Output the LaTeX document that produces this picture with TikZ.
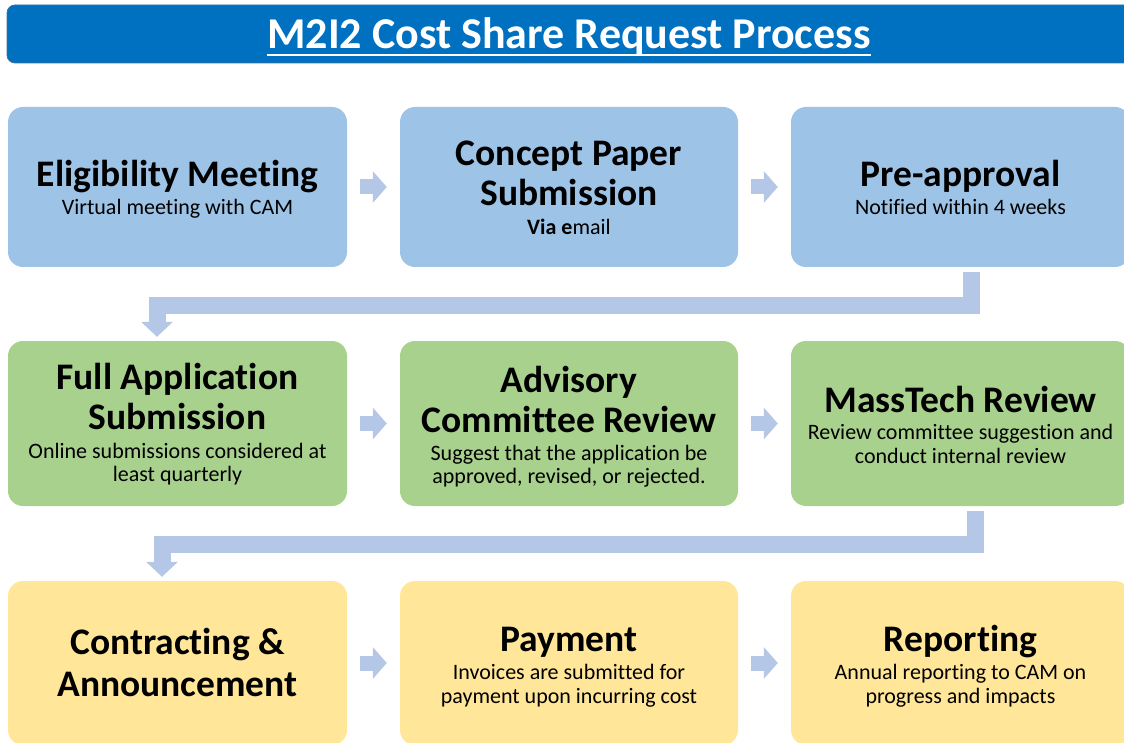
\documentclass[tikz,border=0pt]{standalone}
\usepackage{fontspec}
\setmainfont{Carlito}[Ligatures=NoCommon]
\usetikzlibrary{arrows.meta,calc}
\definecolor{titleblue}{HTML}{0070C0}
\definecolor{titleedge}{HTML}{41719C}
\definecolor{cblue}{HTML}{9DC3E6}
\definecolor{cgreen}{HTML}{A9D18E}
\definecolor{cyellow}{HTML}{FFE699}
\definecolor{carrow}{HTML}{B4C7E7}
\begin{document}
\begin{tikzpicture}[x=1pt,y=-1pt,
  box/.style={rounded corners=15pt, inner sep=0pt, draw=none},
  hd/.style={font=\fontsize{37.5}{40}\selectfont\bfseries, inner sep=0pt, anchor=base},
  sb/.style={font=\fontsize{22}{24}\selectfont, inner sep=0pt, anchor=base},
  small/.style={draw=carrow, line width=15pt, -{Triangle[length=14pt,width=31pt]}},
  bent/.style={draw=carrow, line width=17pt, line join=miter, -{Triangle[length=15pt,width=31pt]}}]
\useasboundingbox (0,0) rectangle (1124,743);
\clip (0,0) rectangle (1124,743);
% title bar
\node[box, rounded corners=8pt, fill=titleblue, draw=titleedge, line width=0.8pt,
  minimum width=1128pt, minimum height=58pt] (bar) at (571,34) {};
\node[font=\fontsize{44}{50}\selectfont\bfseries, text=white, inner sep=0pt, anchor=base] (title) at (569,49) {M2I2 Cost Share Request Process};
\draw[white, line width=2pt] ($(title.base west)+(0,6)$) -- ($(title.base east)+(0,6)$);
% row 1
\node[box, fill=cblue, minimum width=339pt, minimum height=160pt] (b1) at (177.5,187) {};
\node[box, fill=cblue, minimum width=338pt, minimum height=160pt] (b2) at (569,187) {};
\node[box, fill=cblue, minimum width=339pt, minimum height=160pt] (b3) at (960.5,187) {};
% row 2
\node[box, fill=cgreen, minimum width=339pt, minimum height=165pt] (b4) at (177.5,423.5) {};
\node[box, fill=cgreen, minimum width=338pt, minimum height=165pt] (b5) at (569,423.5) {};
\node[box, fill=cgreen, minimum width=339pt, minimum height=165pt] (b6) at (960.5,423.5) {};
% row 3
\node[box, fill=cyellow, minimum width=339pt, minimum height=164pt] (b7) at (177.5,663) {};
\node[box, fill=cyellow, minimum width=338pt, minimum height=164pt] (b8) at (569,663) {};
\node[box, fill=cyellow, minimum width=339pt, minimum height=164pt] (b9) at (960.5,663) {};
% texts row 1
\node[hd] (t1a) at (177.5,187) {Eligibility Meeting};
\node[sb] (t1b) at (177.5,215) {Virtual meeting with CAM};
\node[hd] (t2a) at (569,166) {Concept Paper};
\node[hd] (t2b) at (569,206) {Submission};
\node[sb] (t2c) at (569,235) {\textbf{Via e}mail};
\node[hd] (t3a) at (960.5,187) {Pre-approval};
\node[sb] (t3b) at (960.5,215) {Notified within 4 weeks};
% texts row 2
\node[hd] (t4a) at (177.5,389) {Full Application};
\node[hd] (t4b) at (177.5,429) {Submission};
\node[sb] (t4c) at (177.5,458) {Online submissions considered at};
\node[sb] (t4d) at (177.5,481) {least quarterly};
\node[hd] (t5a) at (569,392) {Advisory};
\node[hd] (t5b) at (569,432) {Committee Review};
\node[sb] (t5c) at (569,460) {Suggest that the application be};
\node[sb] (t5d) at (569,483) {approved, revised, or rejected.};
\node[hd] (t6a) at (960.5,412) {MassTech Review};
\node[sb] (t6b) at (960.5,439) {Review committee suggestion and};
\node[sb] (t6c) at (960.5,463) {conduct internal review};
% texts row 3
\node[hd] (t7a) at (177.5,654) {Contracting \&};
\node[hd] (t7b) at (177.5,696) {Announcement};
\node[hd] (t8a) at (569,651) {Payment};
\node[sb] (t8b) at (569,679) {Invoices are submitted for};
\node[sb] (t8c) at (569,703) {payment upon incurring cost};
\node[hd] (t9a) at (960.5,651) {Reporting};
\node[sb] (t9b) at (960.5,679) {Annual reporting to CAM on};
\node[sb] (t9c) at (960.5,703) {progress and impacts};
% small arrows
\draw[small] ($(b1.east)+(13,0)$) -- ($(b2.west)+(-13,0)$);
\draw[small] ($(b2.east)+(13,0)$) -- ($(b3.west)+(-13,0)$);
\draw[small] ($(b4.east)+(13,0)$) -- ($(b5.west)+(-13,0)$);
\draw[small] ($(b5.east)+(13,0)$) -- ($(b6.west)+(-13,0)$);
\draw[small] ($(b7.east)+(13,0)$) -- ($(b8.west)+(-13,0)$);
\draw[small] ($(b8.east)+(13,0)$) -- ($(b9.west)+(-13,0)$);
% bent arrows
\coordinate (s1) at ($(b3.south)+(10.5,5)$);
\coordinate (e1) at ($(b4.north)+(-20.5,-4)$);
\draw[bent] (s1) -- ($(s1)+(0,33)$) -| (e1);
\coordinate (s2) at ($(b6.south)+(15,5)$);
\coordinate (e2) at ($(b7.north)+(-15.5,-4)$);
\draw[bent] (s2) -- ($(s2)+(0,33)$) -| (e2);
\end{tikzpicture}
\end{document}
